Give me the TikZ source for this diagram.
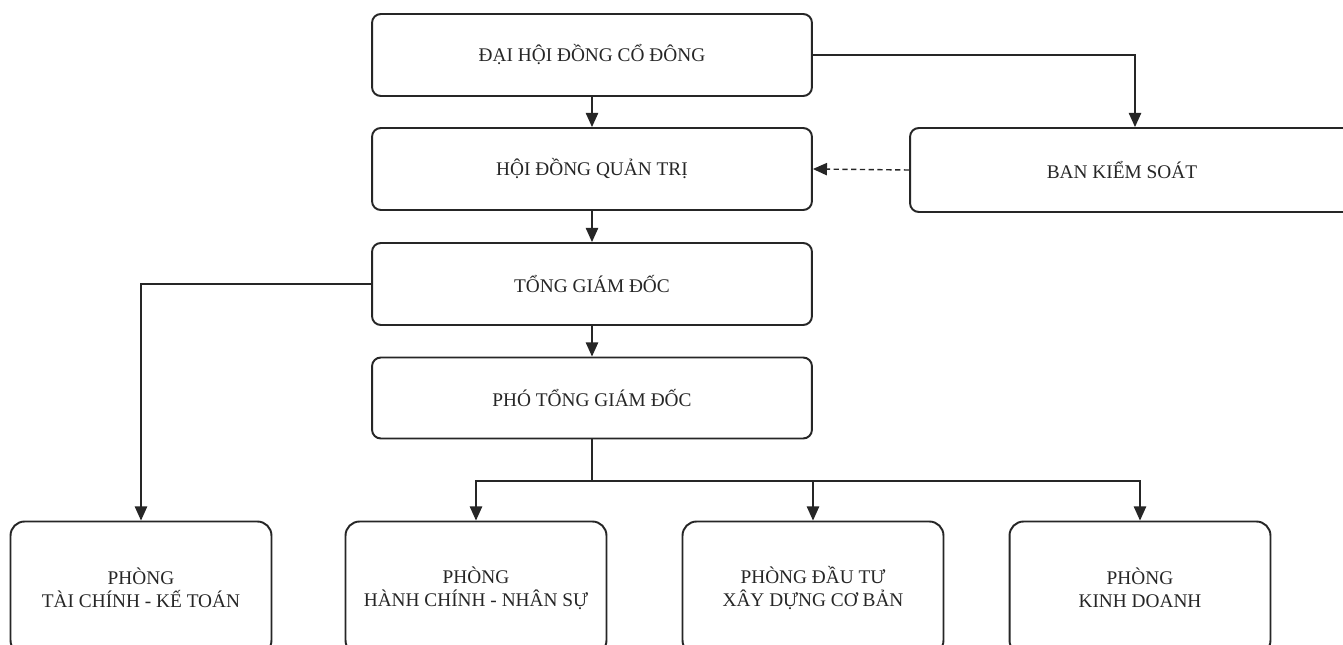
\documentclass[tikz,border=0pt]{standalone}
\usepackage{fontspec}
\setmainfont{Liberation Serif}
\usetikzlibrary{arrows.meta}
\begin{document}
\begin{tikzpicture}[x=0.02cm,y=-0.02cm,
  box/.style={draw=black!85, line width=1.1pt, rounded corners=5pt, fill=white,
    font=\fontsize{11}{13}\selectfont, text=black!85, align=center, inner sep=0pt,
    minimum width=8.8cm, minimum height=1.64cm},
  lowbox/.style={box, rounded corners=8pt, minimum width=5.22cm, minimum height=2.66cm},
  link/.style={draw=black!85, line width=0.8pt},
  conn/.style={link, -{Triangle[length=8pt,width=7pt]}},
  dconn/.style={conn, dash pattern=on 3pt off 2pt}]
\useasboundingbox (0,0) rectangle (1343,645);
\clip (0,0) rectangle (1343,645);
\fill[white] (0,0) rectangle (1343,645);

\node[box] (dh) at (592,55) {ĐẠI HỘI ĐỒNG CỔ ĐÔNG};
\node[box] (hd) at (592,169) {HỘI ĐỒNG QUẢN TRỊ};
\node[box, minimum width=9cm, minimum height=1.68cm] (bks) at (1135,170) {\hspace*{0.52cm}\hspace*{-1.04cm}BAN KIỂM SOÁT};
\node[box] (tgd) at (592,284) {TỔNG GIÁM ĐỐC};
\node[box, minimum height=1.62cm] (ptgd) at (592,398) {PHÓ TỔNG GIÁM ĐỐC};

\node[lowbox] (pa) at (141,588) {PHÒNG\\TÀI CHÍNH - KẾ TOÁN};
\node[lowbox] (pb) at (476,588) {PHÒNG\\HÀNH CHÍNH - NHÂN SỰ};
\node[lowbox] (pc) at (813,588) {PHÒNG ĐẦU TƯ\\XÂY DỰNG CƠ BẢN};
\node[lowbox] (pd) at (1140,588) {PHÒNG\\KINH DOANH};

\draw[conn] (dh.south) -- (hd.north);
\draw[conn] (dh.east) -| (bks.north);
\draw[dconn] (bks.west) -- (hd.east);
\draw[conn] (hd.south) -- (tgd.north);
\draw[conn] (tgd.west) -| (pa.north);
\draw[conn] (tgd.south) -- (ptgd.north);
\coordinate (j) at (592,481);
\draw[link] (ptgd.south) -- (j);
\draw[conn] (j) -| (pb.north);
\draw[conn] (j) -| (pc.north);
\draw[conn] (j) -| (pd.north);
\end{tikzpicture}
\end{document}
